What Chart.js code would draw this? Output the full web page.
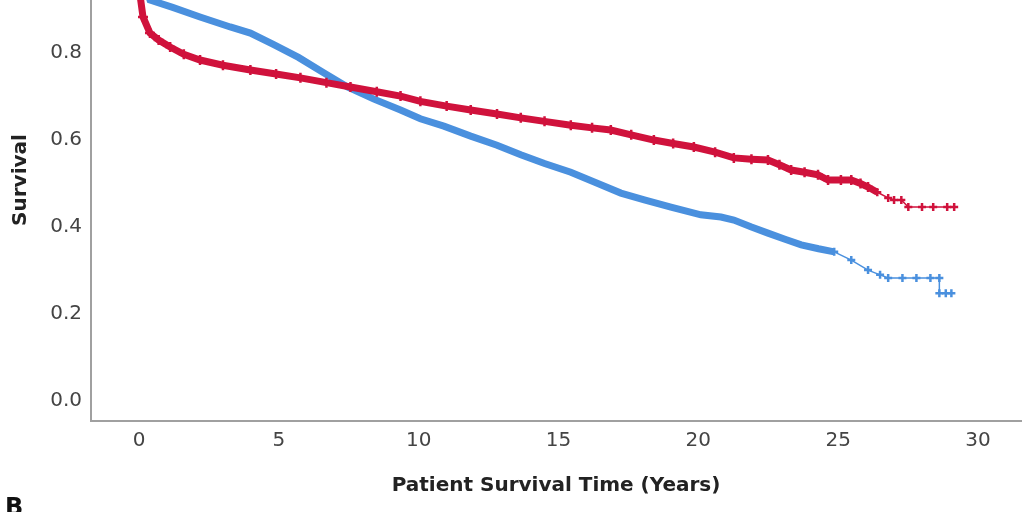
<!DOCTYPE html>
<html>
<head>
<meta charset="utf-8">
<script src="https://cdn.jsdelivr.net/npm/chart.js@4"></script>
<style>
  html, body { margin: 0; padding: 0; background: #fff; }
  #wrap { width: 1024px; height: 512px; position: relative; }
</style>
</head>
<body>
<div id="wrap"><canvas id="km"></canvas></div>
<script>
// survival curves (years, survival)
const redTimes = [0, 0.04, 0.14, 0.39, 0.7, 1.11, 1.6, 2.18, 3.0, 3.98, 4.9, 5.77, 6.7, 7.56, 8.5, 9.35,
  10.06, 11.0, 11.86, 12.8, 13.65, 14.5, 15.44, 16.2, 16.87, 17.6, 18.41, 19.1, 19.84, 20.6, 21.27,
  21.9, 22.49, 22.9, 23.32, 23.8, 24.28, 24.64, 25.1, 25.47, 25.8, 26.07, 26.4, 26.79, 27.0, 27.26,
  27.51, 28.0, 28.4, 28.9, 29.15];
const redSurv = [1.0, 0.93, 0.883, 0.846, 0.83, 0.814, 0.797, 0.784, 0.772, 0.761, 0.752, 0.743, 0.732, 0.722, 0.711, 0.701,
  0.689, 0.678, 0.669, 0.66, 0.651, 0.643, 0.634, 0.628, 0.623, 0.612, 0.600, 0.592, 0.584, 0.572, 0.559,
  0.556, 0.554, 0.543, 0.531, 0.526, 0.520, 0.508, 0.508, 0.508, 0.500, 0.492, 0.480, 0.467, 0.462, 0.462,
  0.446, 0.446, 0.446, 0.446, 0.446];

const blueTimes = [0, 0.39, 1.2, 2.18, 3.26, 3.98, 4.8, 5.7, 6.6, 7.45, 8.4, 9.35, 10.06, 10.9, 11.86,
  12.8, 13.65, 14.5, 15.44, 16.3, 17.23, 18.1, 19.02, 20.09, 20.81, 21.27, 21.9, 22.49, 23.1, 23.68,
  24.3, 24.86, 25.47, 26.07, 26.5, 26.79, 27.3, 27.8, 28.3, 28.62, 28.62, 28.85, 29.05];
const blueSurv = [1.0, 0.922, 0.905, 0.883, 0.860, 0.846, 0.82, 0.79, 0.755, 0.722, 0.694, 0.669, 0.649, 0.632, 0.609,
  0.588, 0.566, 0.546, 0.526, 0.503, 0.478, 0.462, 0.446, 0.428, 0.423, 0.416, 0.40, 0.386, 0.372, 0.359,
  0.350, 0.343, 0.324, 0.301, 0.29, 0.283, 0.283, 0.283, 0.283, 0.283, 0.248, 0.248, 0.248];

const xTicks = [0, 5, 10, 15, 20, 25, 30];
const yTicks = [0.0, 0.2, 0.4, 0.6, 0.8];

const RED = '#d0123c';
const BLUE = '#4a90de';
const FONT = '"DejaVu Sans", sans-serif';

function pairs(xs, ys) {
  return xs.map((x, i) => ({ x: x, y: ys[i] }));
}

// thick band where the censor marks pile up, thin line where they thin out
function curve(label, xs, ys, color, thinFrom, bandMark) {
  return {
    label: label,
    data: pairs(xs, ys),
    borderColor: color,
    backgroundColor: color,
    borderWidth: 2,
    segment: {
      borderWidth: ctx => ctx.p0.parsed.x < thinFrom ? 7 : 1.5
    },
    pointStyle: 'cross',
    pointRadius: ctx => ctx.dataIndex === 0 ? 0 : (ctx.parsed.x < thinFrom ? bandMark : 4),
    pointBorderWidth: 2.5,
    pointBorderColor: color,
    tension: 0,
    fill: false
  };
}

// axis titles and panel letter at their spots
const labelsPlugin = {
  id: 'labels',
  afterDraw(chart) {
    const ctx = chart.ctx;
    ctx.save();
    ctx.fillStyle = '#222';
    ctx.font = 'bold 20px ' + FONT;
    ctx.textAlign = 'center';
    ctx.textBaseline = 'middle';
    ctx.fillText('Patient Survival Time (Years)', 556, 486);
    ctx.translate(21, 180);
    ctx.rotate(-Math.PI / 2);
    ctx.fillText('Survival', 0, 0);
    ctx.restore();
    ctx.save();
    ctx.fillStyle = '#111';
    ctx.font = 'bold 24px ' + FONT;
    ctx.textAlign = 'left';
    ctx.textBaseline = 'top';
    ctx.fillText('B', 5, 497);
    ctx.restore();
  }
};

new Chart(document.getElementById('km'), {
  type: 'line',
  data: {
    datasets: [
      curve('Group 1', redTimes, redSurv, RED, 26.2, 5),
      curve('Group 2', blueTimes, blueSurv, BLUE, 24.5, 0)
    ]
  },
  options: {
    responsive: true,
    maintainAspectRatio: false,
    animation: false,
    layout: { autoPadding: false, padding: { left: 0, right: 3, top: 0, bottom: 0 } },
    plugins: {
      legend: { display: false },
      tooltip: { enabled: false }
    },
    scales: {
      x: {
        type: 'linear',
        min: -1.72,
        max: 31.54,
        afterBuildTicks: s => { s.ticks = xTicks.map(v => ({ value: v })); },
        afterFit: s => { s.height = 91; s.paddingLeft = 0; s.paddingRight = 0; },
        grid: { display: false, drawTicks: false },
        border: { display: true, color: '#a0a0a0', width: 2 },
        ticks: {
          color: '#444',
          padding: 8,
          maxRotation: 0,
          font: { family: FONT, size: 20 }
        }
      },
      y: {
        type: 'linear',
        min: -0.046,
        max: 0.922,
        afterBuildTicks: s => { s.ticks = yTicks.map(v => ({ value: v })); },
        afterFit: s => { s.width = 91; s.paddingTop = 0; s.paddingBottom = 0; },
        grid: { display: false, drawTicks: false },
        border: { display: true, color: '#a0a0a0', width: 2 },
        ticks: {
          color: '#444',
          padding: 9,
          callback: v => Number(v).toFixed(1),
          font: { family: FONT, size: 20 }
        }
      }
    }
  },
  plugins: [labelsPlugin]
});
</script>
</body>
</html>
